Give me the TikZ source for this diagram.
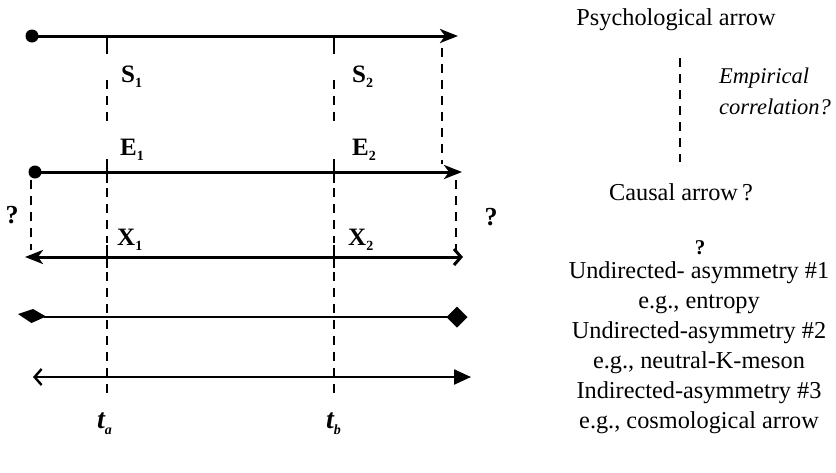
\documentclass[tikz,border=0pt]{standalone}
\usepackage{fontspec}
\setmainfont{Liberation Serif}
\usetikzlibrary{arrows.meta}
\newcommand\sublab[2]{#1\raisebox{-0.22em}{\fontsize{14}{14}\selectfont #2}}
\tikzset{
  stl/.tip={Stealth[length=18pt,width=14pt,inset=5pt]},
  barb/.tip={Straight Barb[length=7pt,width=16pt]},
  tri/.tip={Triangle[length=17pt,width=15pt]},
}
\begin{document}
\begin{tikzpicture}[x=1pt,y=-1pt,
  axis/.style={line width=3pt},
  thinaxis/.style={line width=2.4pt},
  guide/.style={line width=2pt, dash pattern=on 9pt off 7pt},
  ticks/.style={line width=2pt},
  lab/.style={anchor=base west, font=\fontsize{25}{25}\selectfont\bfseries, inner sep=0pt},
  qmark/.style={anchor=base, font=\fontsize{26}{26}\selectfont\bfseries, inner sep=0pt},
  txt/.style={anchor=base, font=\fontsize{24.3}{24.3}\selectfont, inner sep=0pt},
  itxt/.style={anchor=base west, font=\fontsize{22.5}{22.5}\selectfont\itshape, inner sep=0pt},
  dotc/.style={circle, fill, inner sep=0pt, minimum size=13pt},
]
\useasboundingbox (0,0) rectangle (836,472);

% --- vertical guides at t_a and t_b
\foreach \x in {107,334}{
  \draw[ticks] (\x,36) -- (\x,54);
  \draw[guide] (\x,80) -- (\x,128);
  \draw[ticks] (\x,159) -- (\x,183);
  \draw[guide] (\x,188) -- (\x,243);
  \draw[ticks] (\x,245) -- (\x,268);
  \draw[guide] (\x,272) -- (\x,396);
}
\coordinate (r1a) at (442,48);  \coordinate (r1b) at (442,164);
\draw[guide] (r1a) -- (r1b);
\coordinate (l2a) at (31,180);  \coordinate (l2b) at (31,250);
\draw[guide] (l2a) -- (l2b);
\coordinate (r2a) at (456,180); \coordinate (r2b) at (456,250);
\draw[guide] (r2a) -- (r2b);

% --- line 1 (psychological)
\node[dotc] (d1) at (32,36) {};
\coordinate (e1) at (458,36);
\draw[axis,-stl] (d1.center) -- (e1);

% --- line 2 (causal)
\node[dotc] (d2) at (35,172) {};
\coordinate (e2) at (462,172);
\draw[axis,-stl] (d2.center) -- (e2);

% --- line 3
\coordinate (s3) at (25,257);
\coordinate (e3) at (463,257);
\draw[axis,stl-barb] (s3) -- (e3);

% --- line 4 (entropy-like)
\coordinate (s4) at (44,316.5);
\coordinate (e4) at (448,316.5);
\draw[line width=2pt] (s4) -- (e4);
\fill (18,314) -- (33,309) -- (46,316.5) -- (31.5,323) -- cycle;
\fill (457,306.5) -- (467.5,317) -- (457,327.5) -- (446.5,317) -- cycle;

% --- line 5
\coordinate (s5) at (33,377);
\coordinate (e5) at (471,377);
\draw[thinaxis,barb-tri] (s5) -- (e5);

% --- labels
\node[lab] (S1) at (121,82) {\sublab{S}{1}};
\node[lab] (S2) at (352,82) {\sublab{S}{2}};
\node[lab] (E1) at (120,155) {\sublab{E}{1}};
\node[lab] (E2) at (352,155) {\sublab{E}{2}};
\node[lab] (X1) at (117,245) {\sublab{X}{1}};
\node[lab] (X2) at (348,245) {\sublab{X}{2}};
\node[lab, font=\fontsize{28}{28}\selectfont\bfseries\itshape] (ta) at (97,428) {\sublab{t}{a}};
\node[lab, font=\fontsize{28}{28}\selectfont\bfseries\itshape] (tb) at (326,428) {\sublab{t}{b}};
\node[qmark] (q1) at (12,223) {?};
\node[qmark] (q2) at (491,225) {?};

% --- right column
\node[txt] (psy) at (676,25) {Psychological arrow};
\coordinate (pa) at (680,58); \coordinate (pb) at (680,162);
\draw[guide] (pa) -- (pb);
\node[itxt] (emp) at (719,83) {Empirical};
\node[itxt] (cor) at (719,114) {correlation?};
\node[txt] (cau) at (681,200) {Causal arrow\,?};
\node[qmark, font=\fontsize{21}{21}\selectfont\bfseries] (q3) at (700,254) {?};
\node[txt] (u1) at (699,278) {Undirected- asymmetry \#1};
\node[txt] (g1) at (699,308) {e.g., entropy};
\node[txt] (u2) at (699,338) {Undirected-asymmetry \#2};
\node[txt] (g2) at (699,368) {e.g., neutral-K-meson};
\node[txt] (u3) at (699,398) {Indirected-asymmetry \#3};
\node[txt] (g3) at (699,428) {e.g., cosmological arrow};
\end{tikzpicture}
\end{document}
